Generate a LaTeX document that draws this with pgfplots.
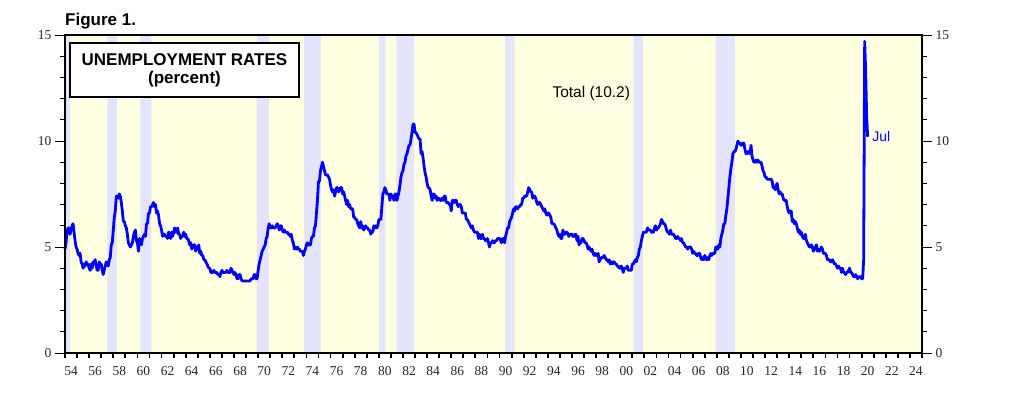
\documentclass[border=0pt]{standalone}
\usepackage{pgfplots}
\pgfplotsset{compat=1.18}
\usepackage{fontspec}
\setmainfont{Liberation Sans}
\newfontfamily\tickserif{Liberation Serif}
\definecolor{bgyellow}{RGB}{255,255,225}
\definecolor{band}{RGB}{228,228,252}
\definecolor{lineblue}{RGB}{0,0,255}
\begin{document}
\begin{tikzpicture}
\begin{axis}[
  at={(0,0)}, anchor=south west,
  scale only axis, width=857pt, height=318pt,
  xmin=1954, xmax=2025, ymin=0, ymax=15,
  axis background/.style={fill=bgyellow},
  axis line style={line width=2.2pt},
  axis on top, clip=false,
  tick align=outside,
  xtick pos=bottom, ytick pos=both,
  xtick={1954.5,1956.5,...,2024.5},
  xticklabels={54,56,58,60,62,64,66,68,70,72,74,76,78,80,82,84,86,88,90,92,94,96,98,00,02,04,06,08,10,12,14,16,18,20,22,24},
  major x tick style={draw=none},
  minor xtick={1954,1955,...,2025},
  minor x tick style={line width=1.8pt},
  ytick={0,5,10,15},
  minor ytick={0,1,...,15},
  yticklabel pos=left,
  major tick length=10pt, minor tick length=5pt,
  tick style={line width=0.8pt,black},
  /pgf/number format/assume math mode=true,
  ticklabel style={font=\tickserif\fontsize{13.5}{15}\selectfont, text=black!85},
]
\addplot[fill=band, draw=none] coordinates {
 (1954.0,0) (1954.0,15) (1954.4,15) (1954.4,0)
 (1957.5,0) (1957.5,15) (1958.3,15) (1958.3,0)
 (1960.25,0) (1960.25,15) (1961.15,15) (1961.15,0)
 (1969.9,0) (1969.9,15) (1970.9,15) (1970.9,0)
 (1973.8,0) (1973.8,15) (1975.2,15) (1975.2,0)
 (1980.0,0) (1980.0,15) (1980.55,15) (1980.55,0)
 (1981.45,0) (1981.45,15) (1982.92,15) (1982.92,0)
 (1990.47,0) (1990.47,15) (1991.22,15) (1991.22,0)
 (2001.1,0) (2001.1,15) (2001.9,15) (2001.9,0)
 (2007.9,0) (2007.9,15) (2009.5,15) (2009.5,0)
} -- cycle;
\addplot[lineblue, line width=2.8pt, line join=round] table[row sep=\\, x expr=1954+\coordindex/12, y index=0] {
u\\
4.9\\5.2\\5.7\\5.9\\5.9\\5.6\\5.8\\6.0\\6.1\\5.7\\5.3\\5.0\\
4.9\\4.7\\4.6\\4.7\\4.3\\4.2\\4.0\\4.2\\4.1\\4.3\\4.2\\4.2\\
4.0\\3.9\\4.2\\4.0\\4.3\\4.3\\4.4\\4.1\\3.9\\3.9\\4.3\\4.2\\
4.2\\3.9\\3.7\\3.9\\4.1\\4.3\\4.2\\4.1\\4.4\\4.5\\5.1\\5.2\\
5.8\\6.4\\6.7\\7.4\\7.4\\7.3\\7.5\\7.4\\7.1\\6.7\\6.2\\6.2\\
6.0\\5.9\\5.6\\5.2\\5.1\\5.0\\5.1\\5.2\\5.5\\5.7\\5.8\\5.3\\
5.2\\4.8\\5.4\\5.2\\5.1\\5.4\\5.5\\5.6\\5.5\\6.1\\6.1\\6.6\\
6.6\\6.9\\6.9\\7.0\\7.1\\6.9\\7.0\\6.6\\6.7\\6.5\\6.1\\6.0\\
5.8\\5.5\\5.6\\5.6\\5.5\\5.5\\5.4\\5.7\\5.6\\5.4\\5.7\\5.5\\
5.7\\5.9\\5.7\\5.7\\5.9\\5.6\\5.6\\5.4\\5.5\\5.5\\5.7\\5.5\\
5.6\\5.4\\5.4\\5.3\\5.1\\5.2\\4.9\\5.0\\5.1\\5.1\\4.8\\5.0\\
4.9\\5.1\\4.7\\4.8\\4.6\\4.6\\4.4\\4.4\\4.3\\4.2\\4.1\\4.0\\
4.0\\3.8\\3.8\\3.8\\3.9\\3.8\\3.8\\3.8\\3.7\\3.7\\3.6\\3.8\\
3.9\\3.8\\3.8\\3.8\\3.8\\3.9\\3.8\\3.8\\3.8\\4.0\\3.9\\3.8\\
3.7\\3.8\\3.7\\3.5\\3.5\\3.7\\3.7\\3.5\\3.4\\3.4\\3.4\\3.4\\
3.4\\3.4\\3.4\\3.4\\3.4\\3.5\\3.5\\3.5\\3.7\\3.7\\3.5\\3.5\\
3.9\\4.2\\4.4\\4.6\\4.8\\4.9\\5.0\\5.1\\5.4\\5.5\\5.9\\6.1\\
5.9\\5.9\\6.0\\5.9\\5.9\\5.9\\6.0\\6.1\\6.0\\5.8\\6.0\\6.0\\
5.8\\5.7\\5.8\\5.7\\5.7\\5.7\\5.6\\5.6\\5.5\\5.6\\5.3\\5.2\\
4.9\\5.0\\4.9\\5.0\\4.9\\4.9\\4.8\\4.8\\4.8\\4.6\\4.8\\4.9\\
5.1\\5.2\\5.1\\5.1\\5.1\\5.4\\5.5\\5.5\\5.9\\6.0\\6.6\\7.2\\
8.1\\8.1\\8.6\\8.8\\9.0\\8.8\\8.6\\8.4\\8.4\\8.4\\8.3\\8.2\\
7.9\\7.7\\7.6\\7.7\\7.4\\7.6\\7.8\\7.8\\7.6\\7.7\\7.8\\7.8\\
7.5\\7.6\\7.4\\7.2\\7.0\\7.2\\6.9\\7.0\\6.8\\6.8\\6.8\\6.4\\
6.4\\6.3\\6.3\\6.1\\6.0\\5.9\\6.2\\5.9\\6.0\\5.8\\5.9\\6.0\\
5.9\\5.9\\5.8\\5.8\\5.6\\5.7\\5.7\\6.0\\5.9\\6.0\\5.9\\6.0\\
6.3\\6.3\\6.3\\6.9\\7.5\\7.6\\7.8\\7.7\\7.5\\7.5\\7.5\\7.2\\
7.5\\7.4\\7.4\\7.2\\7.5\\7.5\\7.2\\7.4\\7.6\\7.9\\8.3\\8.5\\
8.6\\8.9\\9.0\\9.3\\9.4\\9.6\\9.8\\9.8\\10.1\\10.4\\10.8\\10.8\\
10.4\\10.4\\10.3\\10.2\\10.1\\10.1\\9.4\\9.5\\9.2\\8.8\\8.5\\8.3\\
8.0\\7.8\\7.8\\7.7\\7.4\\7.2\\7.5\\7.5\\7.3\\7.4\\7.2\\7.3\\
7.3\\7.2\\7.2\\7.3\\7.2\\7.4\\7.4\\7.1\\7.1\\7.1\\7.0\\7.0\\
6.7\\7.2\\7.2\\7.1\\7.2\\7.2\\7.0\\6.9\\7.0\\7.0\\6.9\\6.6\\
6.6\\6.6\\6.6\\6.3\\6.3\\6.2\\6.1\\6.0\\5.9\\6.0\\5.8\\5.7\\
5.7\\5.7\\5.7\\5.4\\5.6\\5.4\\5.4\\5.6\\5.4\\5.4\\5.3\\5.3\\
5.4\\5.2\\5.0\\5.2\\5.2\\5.3\\5.2\\5.2\\5.3\\5.3\\5.4\\5.4\\
5.4\\5.3\\5.2\\5.4\\5.4\\5.2\\5.5\\5.7\\5.9\\5.9\\6.2\\6.3\\
6.4\\6.6\\6.8\\6.7\\6.9\\6.9\\6.8\\6.9\\6.9\\7.0\\7.0\\7.3\\
7.3\\7.4\\7.4\\7.4\\7.6\\7.8\\7.7\\7.6\\7.6\\7.3\\7.4\\7.4\\
7.3\\7.1\\7.0\\7.1\\7.1\\7.0\\6.9\\6.8\\6.7\\6.8\\6.6\\6.5\\
6.6\\6.6\\6.5\\6.4\\6.1\\6.1\\6.1\\6.0\\5.9\\5.8\\5.6\\5.5\\
5.6\\5.4\\5.4\\5.8\\5.6\\5.6\\5.7\\5.7\\5.6\\5.5\\5.6\\5.6\\
5.6\\5.5\\5.5\\5.6\\5.6\\5.3\\5.5\\5.1\\5.2\\5.2\\5.4\\5.4\\
5.3\\5.2\\5.2\\5.1\\4.9\\5.0\\4.9\\4.8\\4.9\\4.7\\4.6\\4.7\\
4.6\\4.6\\4.7\\4.3\\4.4\\4.5\\4.5\\4.5\\4.6\\4.5\\4.4\\4.4\\
4.3\\4.4\\4.2\\4.3\\4.2\\4.3\\4.3\\4.2\\4.2\\4.1\\4.1\\4.0\\
4.0\\4.1\\4.0\\3.8\\4.0\\4.0\\4.0\\4.1\\3.9\\3.9\\3.9\\3.9\\
4.2\\4.2\\4.3\\4.4\\4.3\\4.5\\4.6\\4.9\\5.0\\5.3\\5.5\\5.7\\
5.7\\5.7\\5.7\\5.9\\5.8\\5.8\\5.8\\5.7\\5.7\\5.7\\5.9\\6.0\\
5.8\\5.9\\5.9\\6.0\\6.1\\6.3\\6.2\\6.1\\6.1\\6.0\\5.8\\5.7\\
5.7\\5.6\\5.8\\5.6\\5.6\\5.6\\5.5\\5.4\\5.4\\5.5\\5.4\\5.4\\
5.3\\5.4\\5.2\\5.2\\5.1\\5.0\\5.0\\4.9\\5.0\\5.0\\5.0\\4.9\\
4.7\\4.8\\4.7\\4.7\\4.6\\4.6\\4.7\\4.7\\4.5\\4.4\\4.5\\4.4\\
4.6\\4.5\\4.4\\4.5\\4.4\\4.6\\4.7\\4.6\\4.7\\4.7\\4.7\\5.0\\
5.0\\4.9\\5.1\\5.0\\5.4\\5.6\\5.8\\6.1\\6.1\\6.5\\6.8\\7.3\\
7.8\\8.3\\8.7\\9.0\\9.4\\9.5\\9.5\\9.6\\9.8\\10.0\\9.9\\9.9\\
9.8\\9.8\\9.9\\9.9\\9.6\\9.4\\9.4\\9.5\\9.5\\9.4\\9.8\\9.3\\
9.1\\9.0\\9.0\\9.1\\9.0\\9.1\\9.0\\9.0\\9.0\\8.8\\8.6\\8.5\\
8.3\\8.3\\8.2\\8.2\\8.2\\8.2\\8.2\\8.1\\7.8\\7.8\\7.7\\7.9\\
8.0\\7.7\\7.5\\7.6\\7.5\\7.5\\7.3\\7.2\\7.2\\7.2\\6.9\\6.7\\
6.6\\6.7\\6.7\\6.2\\6.3\\6.1\\6.2\\6.1\\5.9\\5.7\\5.8\\5.6\\
5.7\\5.5\\5.4\\5.4\\5.6\\5.3\\5.2\\5.1\\5.0\\5.0\\5.1\\5.0\\
4.8\\4.9\\5.0\\5.1\\4.8\\4.9\\4.8\\4.9\\5.0\\4.9\\4.7\\4.7\\
4.7\\4.6\\4.4\\4.4\\4.4\\4.3\\4.3\\4.4\\4.3\\4.2\\4.2\\4.1\\
4.0\\4.1\\4.0\\4.0\\3.8\\4.0\\3.8\\3.8\\3.7\\3.8\\3.8\\3.9\\
4.0\\3.8\\3.8\\3.7\\3.6\\3.6\\3.7\\3.6\\3.5\\3.6\\3.6\\3.6\\
3.5\\3.5\\4.4\\14.7\\13.3\\11.1\\10.2\\
};
\node[anchor=west, text=lineblue, font=\fontsize{14}{16}\selectfont] at (axis cs:2020.6,10.2) {Jul};
\node[font=\fontsize{15.5}{17}\selectfont] at (axis cs:1997.6,12.26) {Total (10.2)};
\node[draw=black, fill=white, line width=1.5pt, minimum width=229pt, minimum height=54pt, align=center, inner sep=0pt,
  font=\bfseries\fontsize{17}{18}\selectfont] at (rel axis cs:0.1394,0.8899) {UNEMPLOYMENT RATES\\(percent)};
\node[anchor=base west, font=\bfseries\fontsize{17}{20}\selectfont, inner sep=0pt] at (rel axis cs:0,1.0314) {Figure 1.};
\coordinate (bbl) at (rel axis cs:-0.07585,-0.12893);
\coordinate (btr) at (rel axis cs:1.11902,1.11006);
\end{axis}
\begin{axis}[
  at={(0,0)}, anchor=south west,
  scale only axis, width=857pt, height=318pt,
  xmin=1954, xmax=2025, ymin=0, ymax=15,
  hide x axis,
  axis y line*=right,
  axis line style={draw=none},
  tick align=outside,
  ytick={0,5,10,15},
  major tick length=10pt,
  ytick style={draw=none},
  yticklabel pos=right,
  /pgf/number format/assume math mode=true,
  ticklabel style={font=\tickserif\fontsize{13.5}{15}\selectfont, text=black!85},
]
\addplot[draw=none] coordinates {(1960,1)};
\end{axis}
\path (bbl) rectangle (btr);
\end{tikzpicture}
\end{document}
